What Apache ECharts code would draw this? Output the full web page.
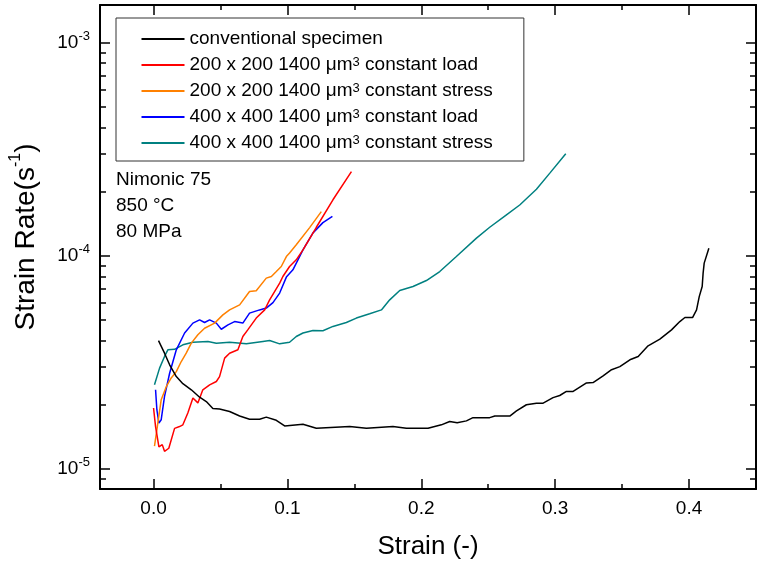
<!DOCTYPE html>
<html>
<head>
<meta charset="utf-8">
<script src="https://cdn.jsdelivr.net/npm/echarts@6/dist/echarts.min.js"></script>
<style>html,body{margin:0;padding:0;background:#fff;}#chart{width:757px;height:563px;}</style>
</head>
<body>
<div id="chart"></div>
<script>
// ---------- data (strain [-], strain rate [1/s]) ----------
const seriesNames = [
  'conventional specimen',
  '200 x 200 1400 μm³ constant load',
  '200 x 200 1400 μm³ constant stress',
  '400 x 400 1400 μm³ constant load',
  '400 x 400 1400 μm³ constant stress'
];
const seriesColors = ['#000000', '#ff0000', '#ff8000', '#0000ff', '#008080'];

const conventional = [[0.0037,4.0e-5],[0.0082,3.49e-5],[0.012,3.08e-5],[0.017,2.71e-5],[0.0219,2.51e-5],[0.0282,2.35e-5],[0.0344,2.17e-5],[0.0394,2.07e-5],[0.0443,1.92e-5],[0.0493,1.91e-5],[0.0568,1.86e-5],[0.0643,1.77e-5],[0.0717,1.71e-5],[0.0792,1.71e-5],[0.0842,1.75e-5],[0.0917,1.69e-5],[0.0979,1.59e-5],[0.1116,1.62e-5],[0.1216,1.55e-5],[0.1465,1.58e-5],[0.159,1.55e-5],[0.1788,1.58e-5],[0.1889,1.55e-5],[0.205,1.55e-5],[0.215,1.61e-5],[0.2212,1.67e-5],[0.2268,1.645e-5],[0.2337,1.68e-5],[0.2386,1.74e-5],[0.2511,1.74e-5],[0.2549,1.77e-5],[0.2661,1.77e-5],[0.2711,1.87e-5],[0.2785,2.0e-5],[0.286,2.035e-5],[0.291,2.035e-5],[0.2984,2.16e-5],[0.3034,2.21e-5],[0.3084,2.31e-5],[0.3134,2.31e-5],[0.3234,2.53e-5],[0.3283,2.54e-5],[0.3358,2.73e-5],[0.3421,2.92e-5],[0.3483,3.02e-5],[0.3558,3.25e-5],[0.362,3.37e-5],[0.3694,3.78e-5],[0.3782,4.06e-5],[0.3869,4.49e-5],[0.3931,4.91e-5],[0.3969,5.13e-5],[0.4026,5.13e-5],[0.4056,5.57e-5],[0.4076,6.43e-5],[0.4098,7.17e-5],[0.4105,8.29e-5],[0.4113,9.23e-5],[0.4148,1.085e-4]];

const s200Load = [[0.0,1.93e-5],[0.0015,1.58e-5],[0.004,1.27e-5],[0.0065,1.30e-5],[0.0082,1.21e-5],[0.0114,1.25e-5],[0.0157,1.55e-5],[0.0194,1.58e-5],[0.0219,1.61e-5],[0.0256,1.83e-5],[0.0294,2.15e-5],[0.0331,2.04e-5],[0.0368,2.35e-5],[0.0419,2.48e-5],[0.0469,2.57e-5],[0.0493,2.71e-5],[0.0531,3.31e-5],[0.0568,3.49e-5],[0.063,3.62e-5],[0.0667,4.18e-5],[0.0705,4.5e-5],[0.0767,5.1e-5],[0.083,5.57e-5],[0.0867,6.21e-5],[0.0942,7.44e-5],[0.0966,7.99e-5],[0.1016,8.9e-5],[0.1066,9.57e-5],[0.1116,1.066e-4],[0.1216,1.36e-4],[0.134,1.83e-4],[0.1478,2.48e-4]];

const s200Stress = [[0.0007,1.28e-5],[0.0025,1.53e-5],[0.0057,2.11e-5],[0.0095,2.43e-5],[0.0132,2.67e-5],[0.017,2.86e-5],[0.0207,3.19e-5],[0.0244,3.49e-5],[0.0282,3.89e-5],[0.0331,4.26e-5],[0.0381,4.57e-5],[0.0456,4.83e-5],[0.0518,5.28e-5],[0.0568,5.57e-5],[0.0643,5.88e-5],[0.0717,6.8e-5],[0.0767,6.85e-5],[0.0842,7.85e-5],[0.088,7.99e-5],[0.0917,8.43e-5],[0.0954,8.9e-5],[0.0992,9.91e-5],[0.1016,1.03e-4],[0.1066,1.125e-4],[0.1166,1.355e-4],[0.1253,1.61e-4]];

const s400Load = [[0.0015,2.35e-5],[0.0025,1.89e-5],[0.004,1.64e-5],[0.0057,1.70e-5],[0.0082,2.19e-5],[0.012,2.81e-5],[0.017,3.62e-5],[0.0232,4.34e-5],[0.0294,4.83e-5],[0.0344,5.0e-5],[0.0381,4.86e-5],[0.0419,5.0e-5],[0.0469,4.83e-5],[0.0506,4.52e-5],[0.0556,4.74e-5],[0.0605,4.91e-5],[0.0667,4.83e-5],[0.0717,5.38e-5],[0.0792,5.57e-5],[0.0842,5.68e-5],[0.0892,6.03e-5],[0.0942,6.68e-5],[0.0992,7.94e-5],[0.1041,8.59e-5],[0.1116,1.066e-4],[0.1191,1.28e-4],[0.1265,1.43e-4],[0.1336,1.53e-4]];

const s400Stress = [[0.0007,2.48e-5],[0.0045,2.97e-5],[0.0082,3.37e-5],[0.0107,3.62e-5],[0.0157,3.64e-5],[0.0219,3.82e-5],[0.0294,3.93e-5],[0.0406,3.96e-5],[0.0469,3.89e-5],[0.0568,3.93e-5],[0.0693,3.86e-5],[0.0817,3.96e-5],[0.0867,4.0e-5],[0.0942,3.86e-5],[0.1016,3.93e-5],[0.1066,4.18e-5],[0.1116,4.34e-5],[0.1191,4.46e-5],[0.1265,4.45e-5],[0.134,4.66e-5],[0.144,4.86e-5],[0.1515,5.10e-5],[0.1614,5.34e-5],[0.1702,5.57e-5],[0.1764,6.21e-5],[0.1839,6.87e-5],[0.1938,7.17e-5],[0.2038,7.65e-5],[0.2138,8.43e-5],[0.2262,9.91e-5],[0.2412,1.21e-4],[0.2511,1.36e-4],[0.2636,1.555e-4],[0.2735,1.73e-4],[0.286,2.05e-4],[0.296,2.44e-4],[0.3079,3.01e-4]];

const seriesData = [conventional, s200Load, s200Stress, s400Load, s400Stress];

// ---------- ticks ----------
const strainMajor = [0, 0.1, 0.2, 0.3, 0.4];
const strainMinor = [0.05, 0.15, 0.25, 0.35];
const rateMajor = [1e-5, 1e-4, 1e-3];
const rateMinor = [9e-6, 2e-5, 3e-5, 4e-5, 5e-5, 6e-5, 7e-5, 8e-5, 9e-5, 2e-4, 3e-4, 4e-4, 5e-4, 6e-4, 7e-4, 8e-4, 9e-4];
const annotation = ['Nimonic 75', '850 °C', '80 MPa'];

const FONT = 'Liberation Sans, Arial, Helvetica, sans-serif';
const X_MIN = -0.04, X_MAX = 0.45, Y_MIN = 8.05e-6, Y_MAX = 1.5e-3;

function xAxisDef(pos, ticks, major) {
  return {
    type: 'value', position: pos, min: X_MIN, max: X_MAX,
    splitLine: { show: false },
    axisLine: { show: major, onZero: false, lineStyle: { color: '#000', width: 2 } },
    axisTick: { show: true, inside: true, length: major ? 10 : 5, customValues: ticks, lineStyle: { color: '#000', width: 1.5 } },
    axisLabel: pos === 'bottom' && major ? {
      show: true, customValues: strainMajor, margin: 10, color: '#000', fontSize: 19, fontFamily: FONT,
      formatter: v => v.toFixed(1)
    } : { show: false },
    name: pos === 'bottom' && major ? 'Strain (-)' : '',
    nameLocation: 'middle', nameGap: 45,
    nameTextStyle: { color: '#000', fontSize: 26, fontFamily: FONT }
  };
}
function yAxisDef(pos, ticks, major) {
  return {
    type: 'log', logBase: 10, position: pos, min: Y_MIN, max: Y_MAX,
    splitLine: { show: false }, minorTick: { show: false },
    axisLine: { show: major, onZero: false, lineStyle: { color: '#000', width: 2 } },
    axisTick: { show: true, inside: true, length: major ? 10 : 6, customValues: ticks, lineStyle: { color: '#000', width: 1.5 } },
    axisLabel: pos === 'left' && major ? {
      show: true, customValues: rateMajor, margin: 10, color: '#000', fontSize: 19, fontFamily: FONT,
      formatter: v => '10{sup|' + Math.round(Math.log10(v)) + '}',
      rich: { sup: { fontSize: 13, fontFamily: FONT, color: '#000', padding: [0, 0, 13, 0] } }
    } : { show: false },
    name: pos === 'left' && major ? 'Strain Rate(s{sup|-1})' : '',
    nameLocation: 'middle', nameGap: 56,
    nameTextStyle: {
      color: '#000', fontSize: 28, fontFamily: FONT, padding: [0, 0, 0, 20],
      rich: { sup: { fontSize: 16, fontFamily: FONT, color: '#000', padding: [0, 0, 20, 0] } }
    }
  };
}

const chart = echarts.init(document.getElementById('chart'), null, { renderer: 'canvas' });
chart.setOption({
  animation: false,
  backgroundColor: '#fff',
  grid: { left: 100, right: 1, top: 5, bottom: 74, containLabel: false, outerBoundsMode: 'none' },
  xAxis: [
    xAxisDef('bottom', strainMajor, true),
    xAxisDef('bottom', strainMinor, false),
    xAxisDef('top', strainMajor, true),
    xAxisDef('top', strainMinor, false)
  ],
  yAxis: [
    yAxisDef('left', rateMajor, true),
    yAxisDef('left', rateMinor, false),
    yAxisDef('right', rateMajor, true),
    yAxisDef('right', rateMinor, false)
  ],
  legend: {
    orient: 'vertical', left: 116, top: 18,
    padding: [11.5, 31, 8.5, 25.5],
    itemGap: 7, itemWidth: 43, itemHeight: 2, icon: 'rect',
    borderColor: '#333', borderWidth: 1, backgroundColor: '#fff',
    selectedMode: false,
    data: seriesNames,
    formatter: name => name.replace('³', '{sup|3}'),
    textStyle: {
      color: '#000', fontSize: 19, fontFamily: FONT,
      rich: { sup: { fontSize: 13, fontFamily: FONT, color: '#000', padding: [0, 0, 5, 0] } }
    }
  },
  graphic: [{
    type: 'text', left: 116, top: 167,
    style: { text: annotation.join('\n'), font: '19px ' + FONT, lineHeight: 26, fill: '#000' }
  }],
  series: seriesNames.map((n, i) => ({
    name: n, type: 'line', data: seriesData[i], xAxisIndex: 0, yAxisIndex: 0,
    symbol: 'none', showSymbol: false, smooth: false,
    lineStyle: { color: seriesColors[i], width: 1.5 },
    itemStyle: { color: seriesColors[i] },
    z: 5 - i
  }))
});
</script>
</body>
</html>
